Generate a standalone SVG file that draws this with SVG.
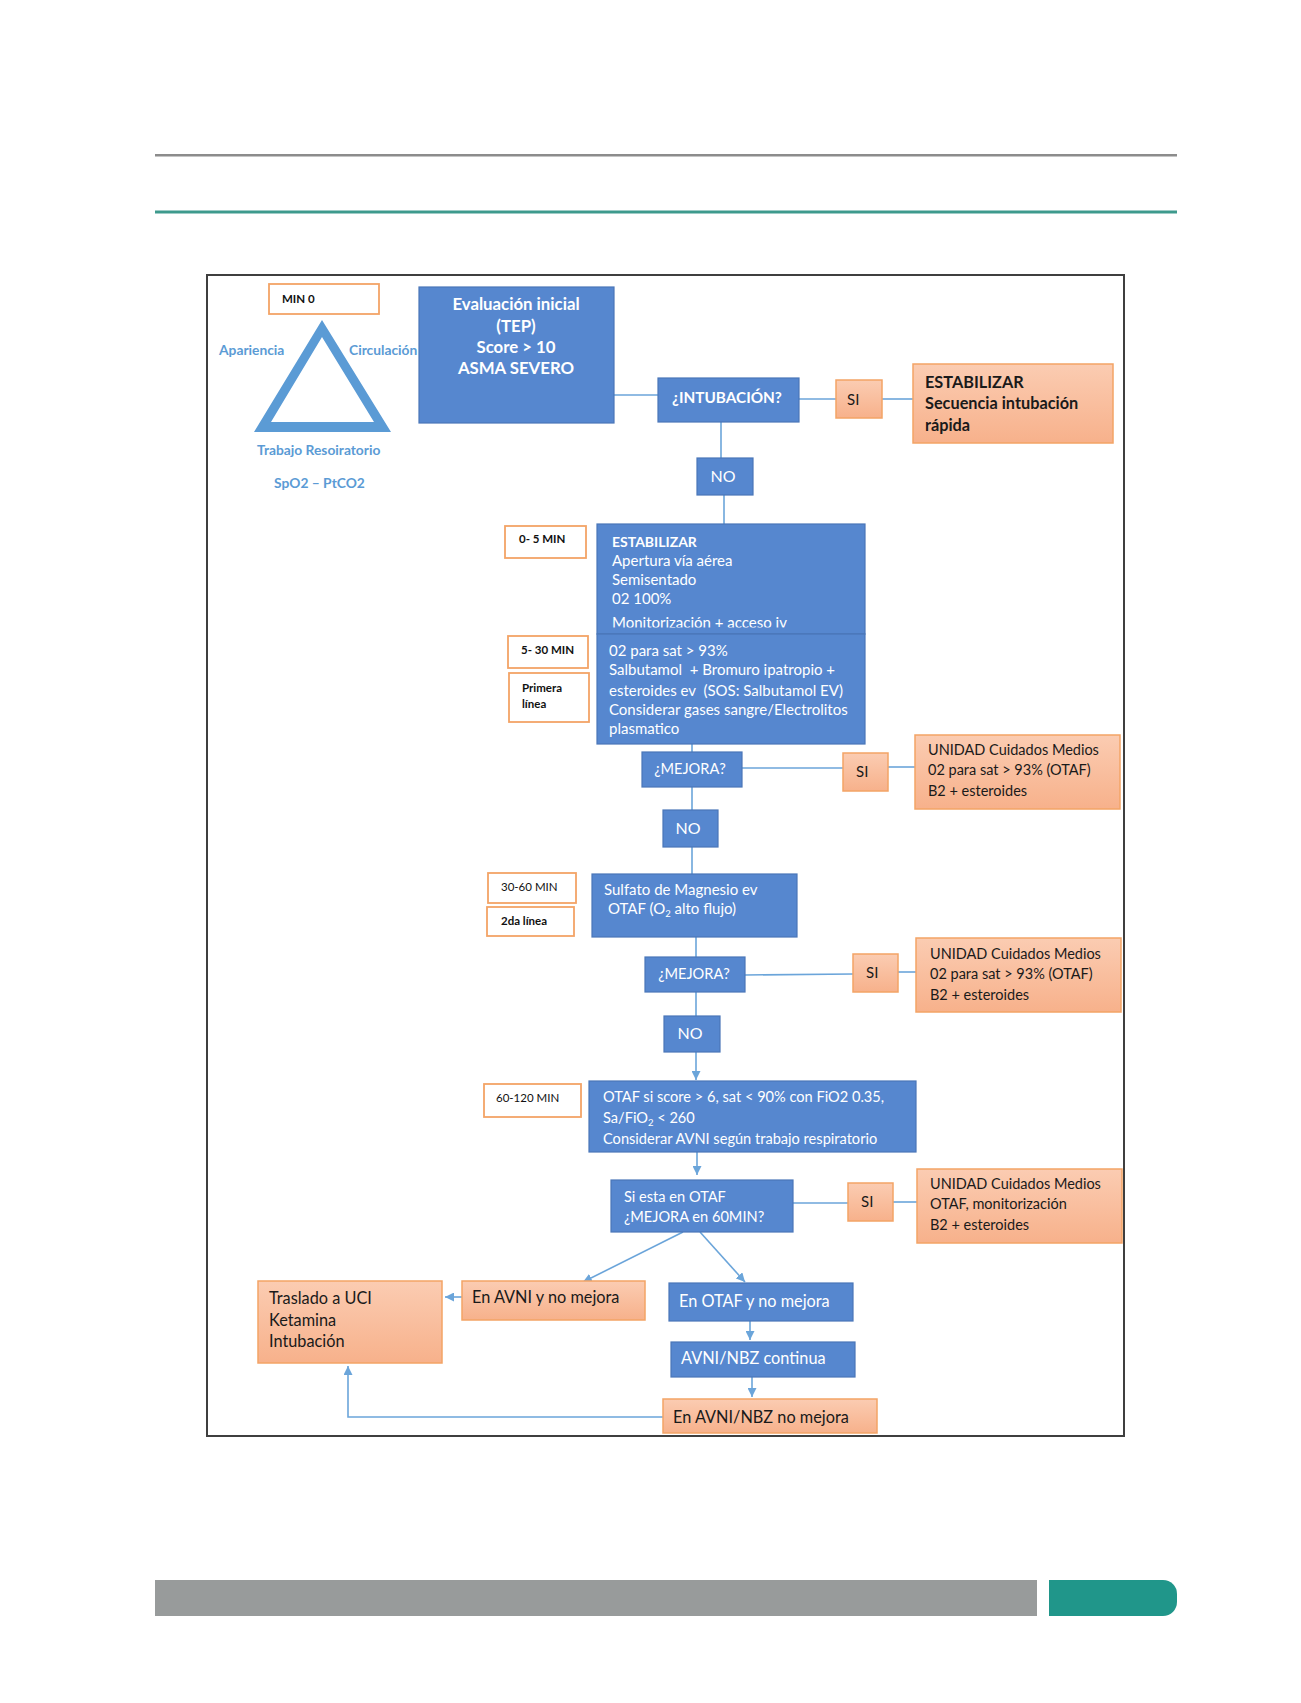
<svg xmlns="http://www.w3.org/2000/svg" width="1301" height="1703" viewBox="0 0 1301 1703">
<style>
text{font-family:Lato,"Liberation Sans",sans-serif;}
.blue{fill:#5687CF;stroke:#4A76B8;stroke-width:1.2;}
.orng{fill:url(#og);stroke:#F3A466;stroke-width:1.5;}
.lbl{fill:#ffffff;stroke:#F3A466;stroke-width:1.8;}
.wt{fill:#ffffff;font-size:15px;}
.wb{fill:#ffffff;font-size:15px;font-weight:bold;}
.dk{fill:#1a1a1a;font-size:14.5px;}
.db{fill:#1a1a1a;font-size:16.3px;font-weight:bold;}
.bt{font-size:16.3px;}
.sb{fill:#111111;font-size:11.5px;font-weight:bold;}
.sr{fill:#111111;font-size:11.5px;}
.tri{fill:#5B9BD5;font-size:13.8px;font-weight:bold;}
.con{stroke:#6BA5DA;stroke-width:1.6;fill:none;}
.arr{marker-end:url(#ah);}
</style>
<defs>
<linearGradient id="og" x1="0" y1="0" x2="0" y2="1">
<stop offset="0" stop-color="#FBCCB2"/>
<stop offset="1" stop-color="#F7B18B"/>
</linearGradient>
<marker id="ah" viewBox="0 0 10 10" refX="10" refY="5" markerWidth="9" markerHeight="9" markerUnits="userSpaceOnUse" orient="auto">
<path d="M0,0 L10,5 L0,10 z" fill="#6BA5DA"/>
</marker>
<clipPath id="c1"><rect x="597" y="524" width="268" height="103.5"/></clipPath>
<clipPath id="c2"><rect x="589" y="1081" width="327" height="66"/></clipPath>
</defs>
<rect width="1301" height="1703" fill="#ffffff"/>
<!-- page decorations -->
<rect x="155" y="154" width="1022" height="2.5" fill="#8C8C8C"/>
<rect x="155" y="210.5" width="1022" height="3" fill="#3E9A8D"/>
<rect x="155" y="1580" width="882" height="36" fill="#989B9B"/>
<path d="M1049,1580 H1163 A14,14 0 0 1 1177,1594 V1602 A14,14 0 0 1 1163,1616 H1049 z" fill="#20968A"/>
<!-- frame -->
<rect x="207" y="275" width="917" height="1161" fill="none" stroke="#3F3F3F" stroke-width="2"/>

<!-- connectors -->
<g id="connectors">
<line class="con" x1="614" y1="395" x2="658" y2="395"/>
<line class="con" x1="799" y1="399" x2="836" y2="399"/>
<line class="con" x1="882" y1="399" x2="913" y2="399"/>
<line class="con" x1="721" y1="422" x2="721" y2="458"/>
<line class="con" x1="724" y1="495" x2="724" y2="524"/>
<line class="con" x1="692" y1="744" x2="692" y2="752"/>
<line class="con" x1="742" y1="768" x2="843" y2="768"/>
<line class="con" x1="888" y1="767" x2="915" y2="767"/>
<line class="con" x1="692" y1="787" x2="692" y2="810"/>
<line class="con" x1="692" y1="847" x2="692" y2="874"/>
<line class="con" x1="696" y1="937" x2="696" y2="957"/>
<line class="con" x1="745" y1="975" x2="853" y2="974"/>
<line class="con" x1="898" y1="972" x2="916" y2="972"/>
<line class="con" x1="696" y1="992" x2="696" y2="1016"/>
<line class="con arr" x1="696" y1="1052" x2="696" y2="1080"/>
<line class="con arr" x1="697" y1="1152" x2="697" y2="1175"/>
<line class="con" x1="793" y1="1203" x2="848" y2="1203"/>
<line class="con" x1="893" y1="1202" x2="917" y2="1202"/>
<line class="con arr" x1="683" y1="1232" x2="583" y2="1282"/>
<line class="con arr" x1="700" y1="1232" x2="745" y2="1282"/>
<line class="con arr" x1="462" y1="1297" x2="445" y2="1297"/>
<line class="con arr" x1="750" y1="1321" x2="750" y2="1340"/>
<line class="con arr" x1="752" y1="1377" x2="752" y2="1397"/>
<polyline class="con arr" points="663,1417 348,1417 348,1366"/>
</g>

<!-- TEP triangle -->
<g id="tep">
<path d="M322,320 L391,432 L254,432 Z M322,337 L271,422 L374,422 Z" fill="#5B9BD5" fill-rule="evenodd"/>
<text class="tri" x="219" y="355">Apariencia</text>
<text class="tri" x="349" y="355">Circulación</text>
<text class="tri" x="257" y="455">Trabajo Resoiratorio</text>
<text class="tri" x="274" y="488">SpO2 – PtCO2</text>
</g>

<g id="min0">
<rect class="lbl" x="269" y="284" width="110" height="30"/>
<text class="sb" x="282" y="303">MIN 0</text>
</g>

<g id="evaluacion">
<rect class="blue" x="419" y="287" width="195" height="136"/>
<text class="wb" x="516" y="310" text-anchor="middle" style="font-size:16.8px">Evaluación inicial</text>
<text class="wb" x="516" y="332" text-anchor="middle" style="font-size:16.8px">(TEP)</text>
<text class="wb" x="516" y="353" text-anchor="middle" style="font-size:16.8px">Score &gt; 10</text>
<text class="wb" x="516" y="374" text-anchor="middle" style="font-size:16.8px">ASMA SEVERO</text>
</g>

<g id="intubacion">
<rect class="blue" x="658" y="378" width="141" height="44"/>
<text class="wb" x="727" y="403" text-anchor="middle" style="font-size:15.3px">¿INTUBACIÓN?</text>
</g>

<g id="si1">
<rect class="orng" x="836" y="380" width="46" height="38"/>
<text class="dk" x="847" y="405" style="font-size:15px">SI</text>
</g>

<g id="estabilizar-sir">
<rect class="orng" x="913" y="364" width="200" height="79"/>
<text class="db" x="925" y="388">ESTABILIZAR</text>
<text class="db" x="925" y="409">Secuencia intubación</text>
<text class="db" x="925" y="431">rápida</text>
</g>

<g id="no1">
<rect class="blue" x="697" y="458" width="56" height="37"/>
<text class="wt" x="723" y="482" text-anchor="middle" style="font-size:16px">NO</text>
</g>

<g id="min0-5">
<rect class="lbl" x="505" y="526" width="81" height="32"/>
<text class="sb" x="519" y="543">0- 5 MIN</text>
</g>

<g id="estabilizar">
<rect class="blue" x="597" y="524" width="268" height="110"/>
<g clip-path="url(#c1)">
<text class="wt" x="612" y="547" font-weight="bold" style="font-size:14px">ESTABILIZAR</text>
<text class="wt" x="612" y="566">Apertura vía aérea</text>
<text class="wt" x="612" y="585">Semisentado</text>
<text class="wt" x="612" y="604">02 100%</text>
<text class="wt" x="612" y="627.5">Monitorización + acceso iv</text>
</g>
</g>

<g id="min5-30">
<rect class="lbl" x="508" y="636" width="80" height="32"/>
<text class="sb" x="521" y="654">5- 30 MIN</text>
</g>

<g id="primera">
<rect class="lbl" x="509" y="673" width="80" height="49"/>
<text class="sb" x="522" y="692">Primera</text>
<text class="sb" x="522" y="708">línea</text>
</g>

<g id="primera-linea">
<rect class="blue" x="597" y="634" width="268" height="110"/>
<text class="wt" x="609" y="656">02 para sat &gt; 93%</text>
<text class="wt" x="609" y="675" xml:space="preserve">Salbutamol  + Bromuro ipatropio +</text>
<text class="wt" x="609" y="696" xml:space="preserve">esteroides ev  (SOS: Salbutamol EV)</text>
<text class="wt" x="609" y="715">Considerar gases sangre/Electrolitos</text>
<text class="wt" x="609" y="734">plasmatico</text>
</g>

<g id="mejora1">
<rect class="blue" x="642" y="752" width="100" height="35"/>
<text class="wt" x="690" y="774" text-anchor="middle" style="font-size:14.6px">¿MEJORA?</text>
</g>

<g id="si2">
<rect class="orng" x="843" y="753" width="45" height="38"/>
<text class="dk" x="856" y="777" style="font-size:15px">SI</text>
</g>

<g id="unidad1">
<rect class="orng" x="915" y="735" width="205" height="74"/>
<text class="dk" x="928" y="755">UNIDAD Cuidados Medios</text>
<text class="dk" x="928" y="775">02 para sat &gt; 93% (OTAF)</text>
<text class="dk" x="928" y="796">B2 + esteroides</text>
</g>

<g id="no2">
<rect class="blue" x="663" y="810" width="55" height="37"/>
<text class="wt" x="688" y="834" text-anchor="middle" style="font-size:16px">NO</text>
</g>

<g id="min30-60">
<rect class="lbl" x="488" y="873" width="88" height="30"/>
<text class="sr" x="501" y="891">30-60 MIN</text>
</g>

<g id="segunda">
<rect class="lbl" x="487" y="907" width="87" height="29"/>
<text class="sb" x="501" y="925">2da línea</text>
</g>

<g id="sulfato">
<rect class="blue" x="592" y="874" width="205" height="63"/>
<text class="wt" x="604" y="895">Sulfato de Magnesio ev</text>
<text class="wt" x="608" y="914">OTAF (O<tspan font-size="9.5" dy="3">2</tspan><tspan dy="-3"> alto flujo)</tspan></text>
</g>

<g id="mejora2">
<rect class="blue" x="645" y="957" width="100" height="35"/>
<text class="wt" x="694" y="979" text-anchor="middle" style="font-size:14.6px">¿MEJORA?</text>
</g>

<g id="si3">
<rect class="orng" x="853" y="954" width="45" height="38"/>
<text class="dk" x="866" y="978" style="font-size:15px">SI</text>
</g>

<g id="unidad2">
<rect class="orng" x="916" y="938" width="205" height="74"/>
<text class="dk" x="930" y="959">UNIDAD Cuidados Medios</text>
<text class="dk" x="930" y="979">02 para sat &gt; 93% (OTAF)</text>
<text class="dk" x="930" y="1000">B2 + esteroides</text>
</g>

<g id="no3">
<rect class="blue" x="664" y="1016" width="56" height="36"/>
<text class="wt" x="690" y="1039" text-anchor="middle" style="font-size:16px">NO</text>
</g>

<g id="min60-120">
<rect class="lbl" x="484" y="1084" width="97" height="33"/>
<text class="sr" x="496" y="1102">60-120 MIN</text>
</g>

<g id="otaf">
<rect class="blue" x="589" y="1081" width="327" height="71"/>
<g clip-path="url(#c2)">
<text class="wt" x="603" y="1102" style="font-size:14.6px">OTAF si score &gt; 6, sat &lt; 90% con FiO2 0.35,</text>
<text class="wt" x="603" y="1123" style="font-size:14.6px">Sa/FiO<tspan font-size="9.5" dy="3">2</tspan><tspan dy="-3"> &lt; 260</tspan></text>
<text class="wt" x="603" y="1144" style="font-size:14.6px">Considerar AVNI según trabajo respiratorio</text>
</g>
</g>

<g id="si-esta">
<rect class="blue" x="611" y="1180" width="182" height="52"/>
<text class="wt" x="624" y="1202" style="font-size:14.6px">Si esta en OTAF</text>
<text class="wt" x="624" y="1222" style="font-size:14.6px">¿MEJORA en 60MIN?</text>
</g>

<g id="si4">
<rect class="orng" x="848" y="1183" width="45" height="38"/>
<text class="dk" x="861" y="1207" style="font-size:15px">SI</text>
</g>

<g id="unidad3">
<rect class="orng" x="917" y="1169" width="205" height="74"/>
<text class="dk" x="930" y="1189">UNIDAD Cuidados Medios</text>
<text class="dk" x="930" y="1209">OTAF, monitorización</text>
<text class="dk" x="930" y="1230">B2 + esteroides</text>
</g>

<g id="traslado">
<rect class="orng" x="258" y="1281" width="184" height="82"/>
<text class="dk bt" x="269" y="1304">Traslado a UCI</text>
<text class="dk bt" x="269" y="1326">Ketamina</text>
<text class="dk bt" x="269" y="1347">Intubación</text>
</g>

<g id="avni-no-mejora">
<rect class="orng" x="462" y="1281" width="183" height="39"/>
<text class="dk bt" x="472" y="1303">En AVNI y no mejora</text>
</g>

<g id="otaf-no-mejora">
<rect class="blue" x="669" y="1283" width="184" height="38"/>
<text class="wt bt" x="679" y="1307">En OTAF y no mejora</text>
</g>

<g id="avni-nbz">
<rect class="blue" x="671" y="1342" width="184" height="35"/>
<text class="wt bt" x="681" y="1364">AVNI/NBZ continua</text>
</g>

<g id="avni-nbz-no-mejora">
<rect class="orng" x="663" y="1399" width="214" height="34"/>
<text class="dk bt" x="673" y="1423">En AVNI/NBZ no mejora</text>
</g>
</svg>
